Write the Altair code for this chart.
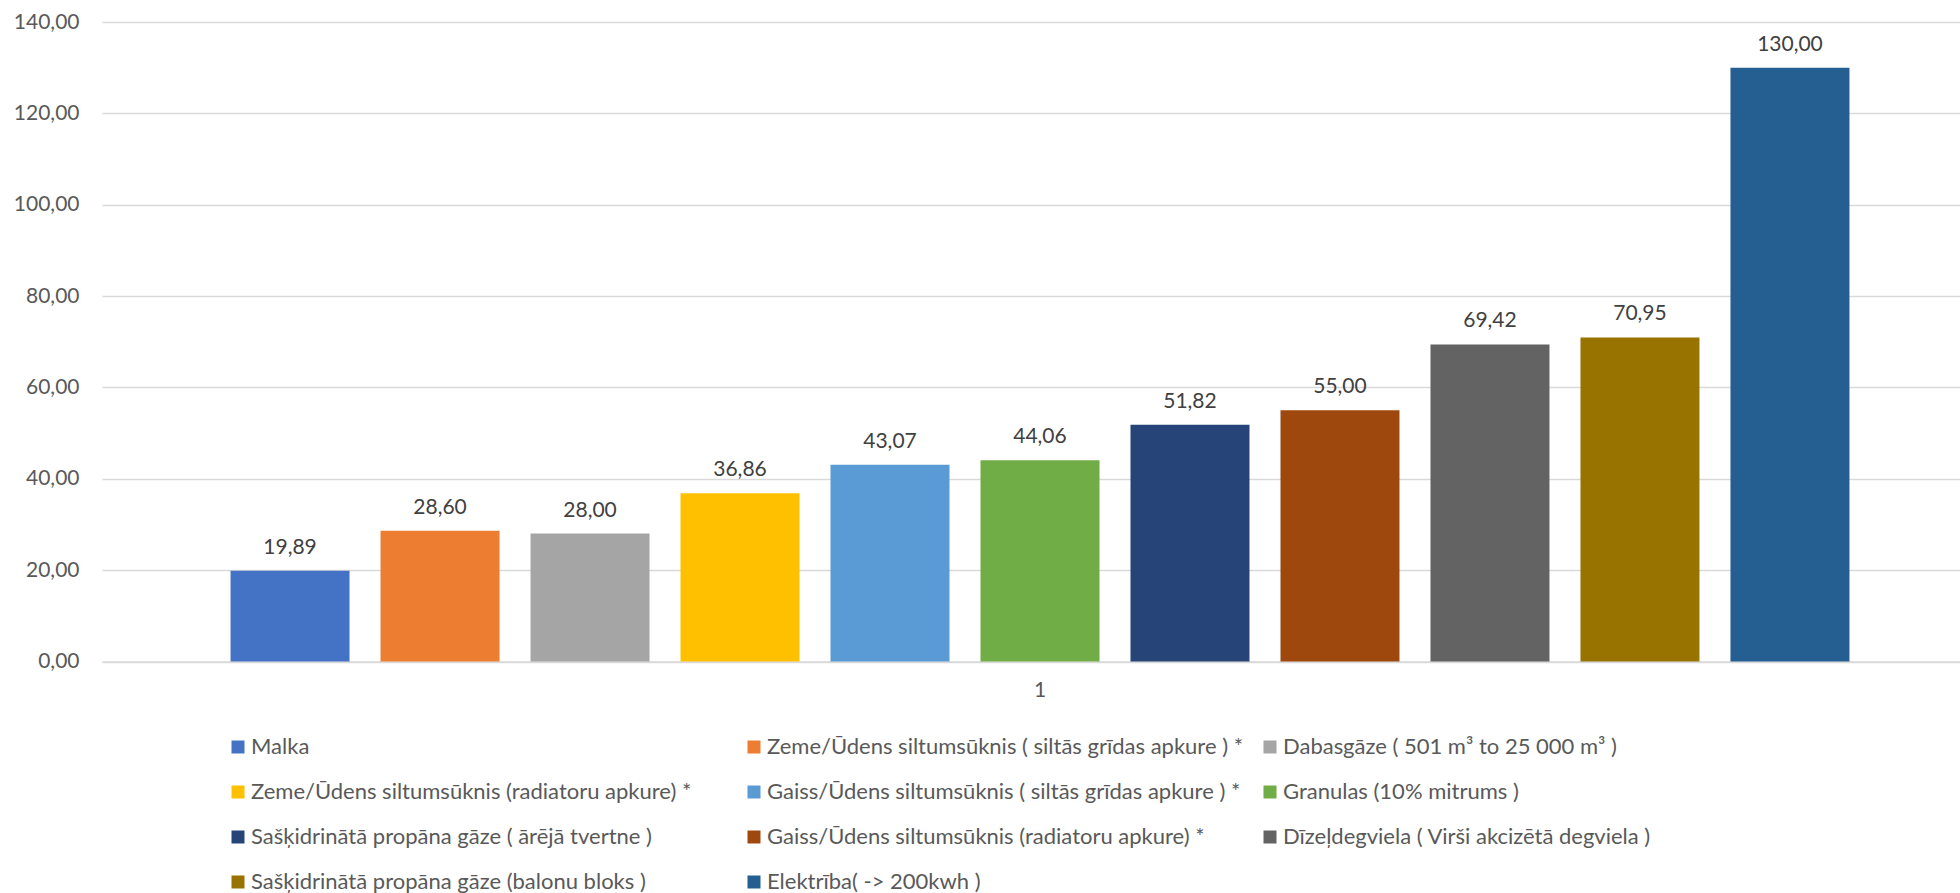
import altair as alt
import pandas as pd

series = [
    "Malka",
    "Zeme/Ūdens siltumsūknis ( siltās grīdas apkure  ) *",
    "Dabasgāze (  501 m³ to 25 000 m³ )",
    "Zeme/Ūdens siltumsūknis (radiatoru apkure) *",
    "Gaiss/Ūdens siltumsūknis ( siltās grīdas apkure  ) *",
    "Granulas (10% mitrums )",
    "Sašķidrinātā propāna gāze ( ārējā tvertne )",
    "Gaiss/Ūdens siltumsūknis (radiatoru apkure) *",
    "Dīzeļdegviela ( Virši akcizētā degviela )",
    "Sašķidrinātā propāna gāze (balonu bloks )",
    "Elektrība( -> 200kwh )",
]
values = [19.89, 28.60, 28.00, 36.86, 43.07, 44.06, 51.82, 55.00, 69.42, 70.95, 130.00]
colors = ["#4472C4", "#ED7D31", "#A5A5A5", "#FFC000", "#5B9BD5", "#70AD47",
          "#264478", "#9E480E", "#636363", "#997300", "#255E91"]
group_label = "1"
y_ticks = [0, 20, 40, 60, 80, 100, 120, 140]

df = pd.DataFrame({"group": [group_label] * len(series), "series": series, "value": values})

FONT = "Lato"
fmt = "replace(format(datum.value, '.2f'), '.', ',')"

base = alt.Chart(df).transform_calculate(label=fmt).encode(
    x=alt.X("group:N",
            scale=alt.Scale(paddingInner=0, paddingOuter=0.00489, align=1),
            axis=alt.Axis(title=None, labelAngle=0, ticks=False, domainColor="#d9d9d9",
                          domainWidth=1.3, labelFont=FONT, labelFontSize=21,
                          labelColor="#595959", labelPadding=18)),
    xOffset=alt.XOffset("series:N", sort=series,
                        scale=alt.Scale(paddingInner=0.2067, paddingOuter=0.737)),
    y=alt.Y("value:Q", scale=alt.Scale(domain=[0, 140], nice=False),
            axis=alt.Axis(title=None, values=y_ticks, labelExpr=fmt, domain=False, ticks=False,
                          gridColor="#d9d9d9", gridWidth=1.3, labelFont=FONT, labelFontSize=21,
                          labelColor="#595959", labelPadding=23)),
)

bars = base.mark_bar().encode(
    color=alt.Color("series:N", sort=series,
                    scale=alt.Scale(domain=series, range=colors),
                    legend=alt.Legend(title=None, orient="none", legendX=125, legendY=714,
                                      direction="horizontal", columns=3, gridAlign="all",
                                      padding=0, symbolType="square",
                                      symbolSize=169, symbolStrokeWidth=0, labelFont=FONT,
                                      labelFontSize=22, labelColor="#595959", labelLimit=1000,
                                      labelOffset=2, columnPadding=10, rowPadding=23)),
)

labels = base.mark_text(dy=-17, baseline="alphabetic", font=FONT, fontSize=21,
                        color="#404040").encode(text=alt.Text("label:N"))

chart = alt.layer(bars, labels).properties(
    width=1858, height=639.5,
    autosize=alt.AutoSizeParams(type="none"),
    padding={"left": 102, "top": 22, "right": 0, "bottom": 231.5},
).configure_view(stroke=None)

chart.save("out.html", embed_options={"renderer": "svg", "actions": False})
